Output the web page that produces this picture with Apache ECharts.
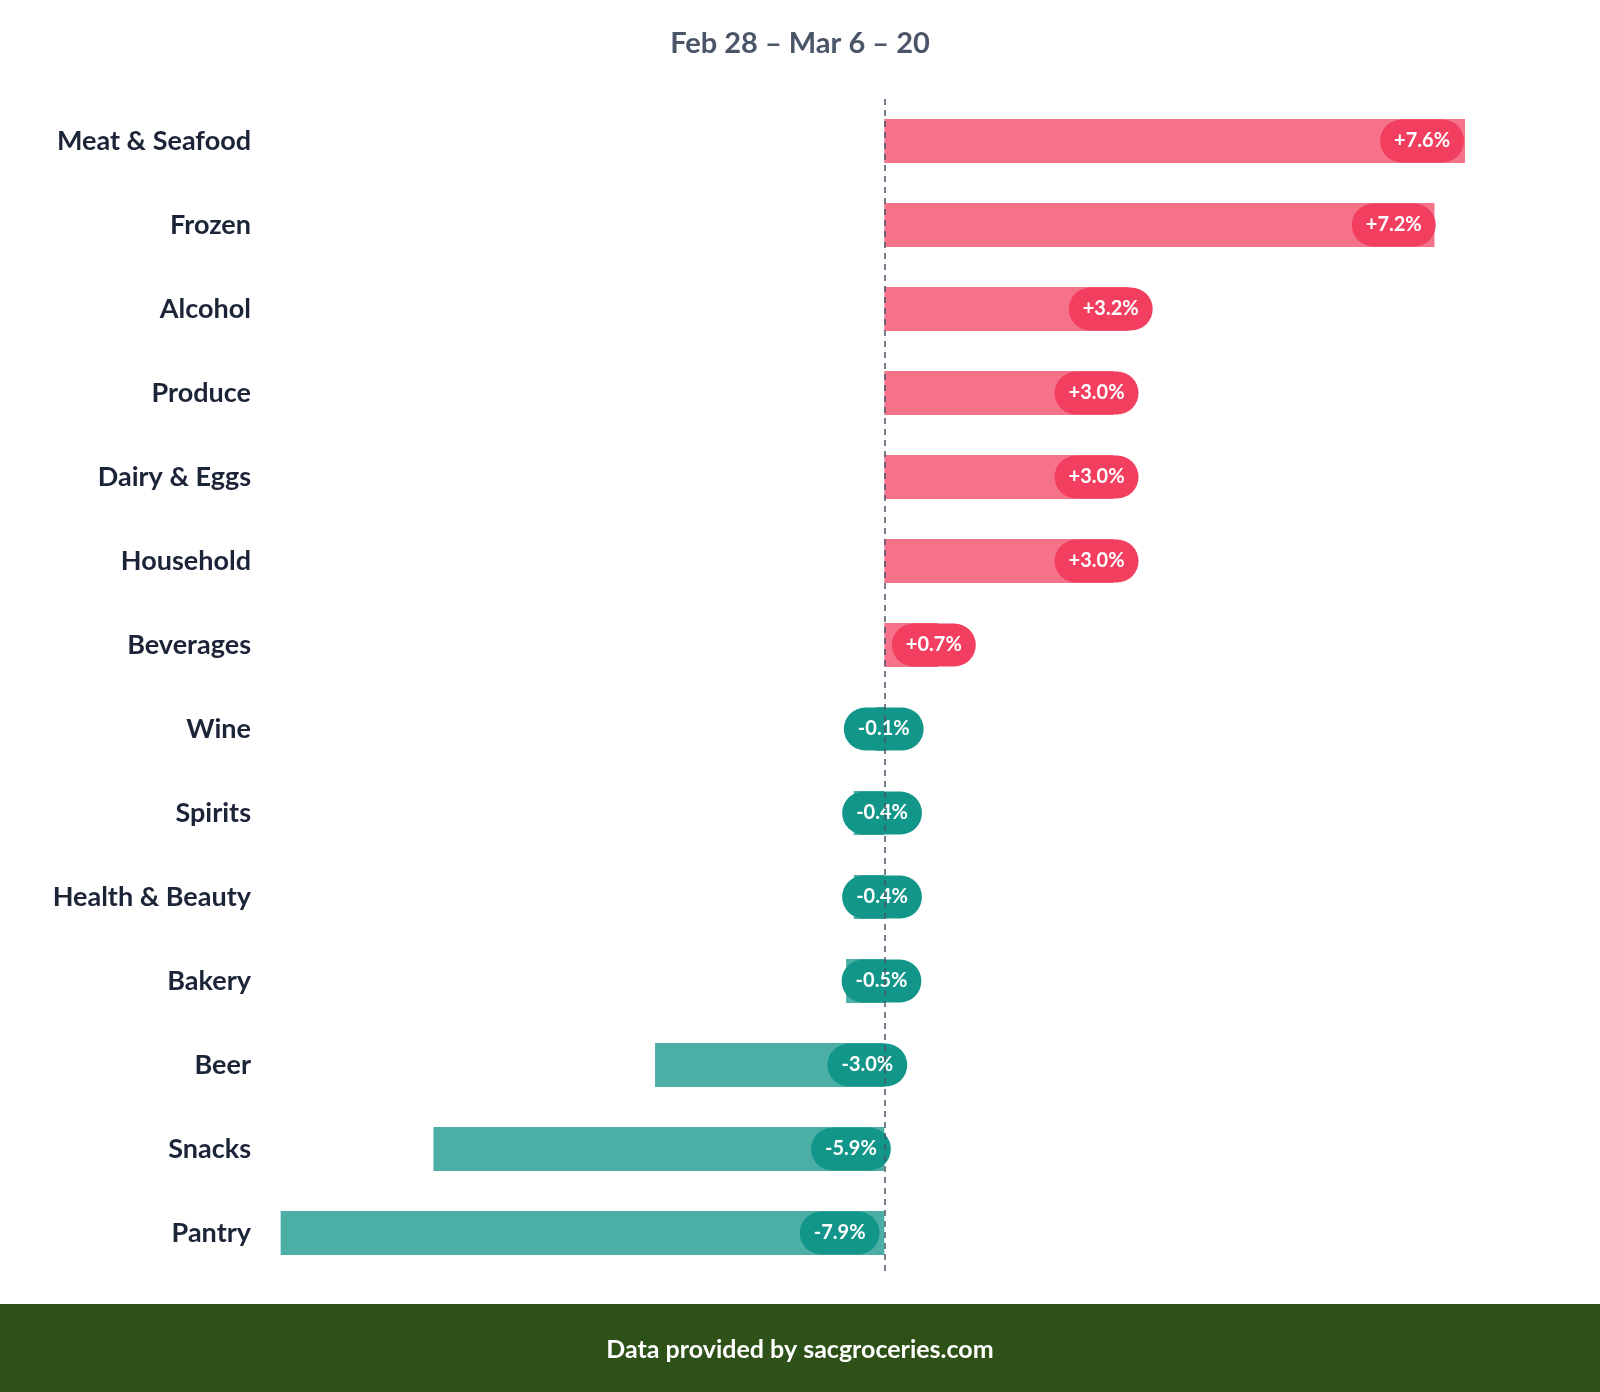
<!DOCTYPE html>
<html>
<head>
<meta charset="utf-8">
<script src="https://cdn.jsdelivr.net/npm/echarts@6/dist/echarts.min.js"></script>
<style>
  html, body { margin: 0; padding: 0; background: #fff; }
  #main { width: 1600px; height: 1392px; }
</style>
</head>
<body>
<div id="main"></div>
<script>
var categories = ['Meat & Seafood', 'Frozen', 'Alcohol', 'Produce', 'Dairy & Eggs', 'Household', 'Beverages',
    'Wine', 'Spirits', 'Health & Beauty', 'Bakery', 'Beer', 'Snacks', 'Pantry'];
var changes = [7.6, 7.2, 3.2, 3.0, 3.0, 3.0, 0.7, -0.1, -0.4, -0.4, -0.5, -3.0, -5.9, -7.9];
var title = 'Feb 28 \u2013 Mar 6 \u2013 20';
var footer = 'Data provided by sacgroceries.com';

var chartDom = document.getElementById('main');
var myChart = echarts.init(chartDom);
var option;

var font = 'Lato, "Noto Sans", sans-serif';

var barData = changes.map(function (v) {
    var up = v >= 0;
    return {
        value: v,
        itemStyle: { color: up ? '#f6718a' : '#4cafa6' },
        label: {
            backgroundColor: up ? '#f23f60' : '#13968a',
            formatter: (up ? '+' : '') + v.toFixed(1) + '%'
        }
    };
});

option = {
    backgroundColor: '#fff',
    title: {
        text: title,
        left: 'center',
        top: 24,
        textStyle: { color: '#4a5568', fontSize: 29, fontWeight: 'bold', fontFamily: font }
    },
    grid: { left: 273, right: 28, top: 99, bottom: 117 },
    xAxis: {
        type: 'value',
        min: -8,
        max: 9,
        show: false
    },
    yAxis: {
        type: 'category',
        data: categories,
        inverse: true,
        axisLine: { show: false },
        axisTick: { show: false },
        splitLine: { show: false },
        axisLabel: {
            color: '#1c2438',
            fontSize: 27,
            fontWeight: 'bold',
            fontFamily: font,
            margin: 22
        }
    },
    graphic: [
        {
            type: 'rect',
            left: 0,
            bottom: 0,
            shape: { width: 1600, height: 88 },
            style: { fill: '#2e5118' }
        },
        {
            type: 'text',
            left: 'center',
            bottom: 30,
            style: { text: footer, fill: '#fff', fontSize: 25, fontWeight: 'bold', fontFamily: font }
        }
    ],
    series: [
        {
            type: 'bar',
            data: barData,
            barWidth: 44,
            label: {
                show: true,
                position: ['92.6%', '50%'],
                align: 'center',
                verticalAlign: 'middle',
                color: '#fff',
                fontSize: 20,
                fontWeight: 'bold',
                fontFamily: font,
                borderRadius: 22,
                padding: [12, 14, 11, 14]
            },
            markLine: {
                silent: true,
                symbol: 'none',
                label: { show: false },
                lineStyle: { color: '#4a5568', type: [6, 5], width: 1.5 },
                data: [{ xAxis: 0 }]
            }
        }
    ]
};

option && myChart.setOption(option);
</script>
</body>
</html>
